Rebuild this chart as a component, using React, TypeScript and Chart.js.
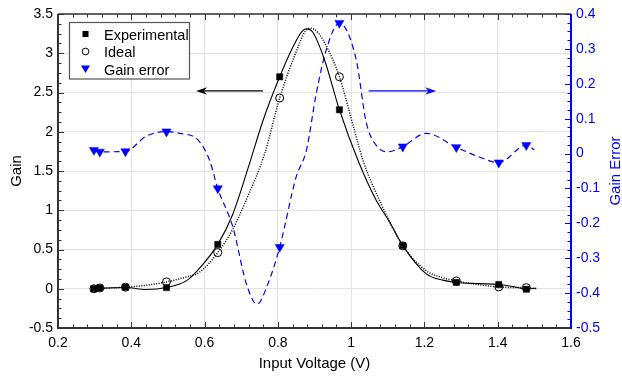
import React, { useEffect, useRef } from "react";
import { Chart, registerables } from "chart.js";

Chart.register(...registerables);

// ---- data ----
const markerVoltage = [0.298, 0.314, 0.384, 0.496, 0.636, 0.805, 0.968, 1.141, 1.287, 1.403, 1.478];
const experimentalGain = [0, 0.01, 0.02, 0.015, 0.565, 2.7, 2.28, 0.55, 0.08, 0.054, -0.006];
const idealGain = [0, 0.01, 0.02, 0.087, 0.46, 2.43, 2.7, 0.547, 0.1, 0.023, 0.015];
const gainError = [0.01, 0.005, 0.006, 0.063, -0.1, -0.268, 0.374, 0.02, 0.018, -0.026, 0.024];

const expCurveVoltage = [0.298, 0.314, 0.384, 0.44, 0.496, 0.55, 0.586, 0.636, 0.677, 0.723, 0.76, 0.805, 0.841, 0.866, 0.878, 0.895, 0.927, 0.968, 1.02, 1.068, 1.105, 1.141, 1.205, 1.25, 1.287, 1.35, 1.403, 1.45, 1.478, 1.505];
const expCurveGain = [0, 0.005, 0.015, -0.01, 0.015, 0.1, 0.26, 0.565, 0.95, 1.6, 2.15, 2.7, 3.08, 3.28, 3.31, 3.27, 2.92, 2.28, 1.62, 1.13, 0.85, 0.55, 0.19, 0.11, 0.08, 0.065, 0.054, 0.02, -0.006, 0.01];

const idealCurveVoltage = [0.298, 0.314, 0.384, 0.45, 0.496, 0.55, 0.586, 0.636, 0.677, 0.72, 0.764, 0.805, 0.85, 0.875, 0.89, 0.91, 0.94, 0.968, 1.006, 1.032, 1.08, 1.141, 1.205, 1.25, 1.287, 1.35, 1.403, 1.45, 1.478, 1.505];
const idealCurveGain = [0, 0.005, 0.02, 0.05, 0.087, 0.15, 0.21, 0.46, 0.76, 1.2, 1.72, 2.43, 3.02, 3.28, 3.32, 3.26, 3.02, 2.7, 2.07, 1.64, 1.1, 0.547, 0.23, 0.14, 0.1, 0.05, 0.023, 0.015, 0.015, 0];

const errorCurveVoltage = [0.298, 0.314, 0.384, 0.441, 0.496, 0.532, 0.582, 0.614, 0.636, 0.677, 0.714, 0.743, 0.773, 0.805, 0.85, 0.878, 0.905, 0.932, 0.968, 1.014, 1.041, 1.068, 1.1, 1.141, 1.205, 1.287, 1.35, 1.403, 1.478, 1.5];
const errorCurveValue = [0.01, 0.005, 0.006, 0.05, 0.063, 0.058, 0.039, -0.02, -0.1, -0.21, -0.373, -0.432, -0.373, -0.268, -0.067, 0.01, 0.173, 0.297, 0.374, 0.268, 0.09, 0.024, 0.005, 0.02, 0.058, 0.018, -0.01, -0.026, 0.024, 0.01];

const voltageTicks = [0.2, 0.4, 0.6, 0.8, 1, 1.2, 1.4, 1.6];
const gainTicks = [-0.5, 0, 0.5, 1, 1.5, 2, 2.5, 3, 3.5];
const errorTicks = [-0.5, -0.4, -0.3, -0.2, -0.1, 0, 0.1, 0.2, 0.3, 0.4];

const legendLabels = ["Experimental", "Ideal", "Gain error"];
const xTitle = "Input Voltage (V)";
const yTitle = "Gain";
const y1Title = "Gain Error";

// arrows (in data units)
const leftArrow = { from: 0.759, to: 0.577, gain: 2.52 };
const rightArrow = { from: 1.048, to: 1.232, gain: 2.52 };

const BLUE = "#0000ff";
const FONT = "'Liberation Sans', Arial, Helvetica, sans-serif";

const pts = (xs: number[], ys: number[]) => xs.map((x, i) => ({ x, y: ys[i] }));

function drawArrowHead(ctx: CanvasRenderingContext2D, x: number, y: number, dir: number, color: string) {
  ctx.fillStyle = color;
  ctx.beginPath();
  ctx.moveTo(x, y);
  ctx.lineTo(x - dir * 11, y - 3.8);
  ctx.lineTo(x - dir * 7.5, y);
  ctx.lineTo(x - dir * 11, y + 3.8);
  ctx.closePath();
  ctx.fill();
}

const decorPlugin = {
  id: "decor",
  afterDraw(chart: any) {
    const ctx: CanvasRenderingContext2D = chart.ctx;
    const { left, right, top, bottom } = chart.chartArea;
    const xs = chart.scales.x;
    const ys = chart.scales.y;
    const es = chart.scales.y1;
    ctx.save();

    // ticks (inward)
    ctx.lineWidth = 1;
    ctx.strokeStyle = "#333";
    for (let i = 0; i <= 35; i++) {
      const px = Math.round(xs.getPixelForValue(0.2 + i * 0.04)) + 0.5;
      const len = i % 5 === 0 ? 6 : 3.5;
      ctx.beginPath();
      ctx.moveTo(px, bottom);
      ctx.lineTo(px, bottom - len);
      ctx.moveTo(px, top);
      ctx.lineTo(px, top + len);
      ctx.stroke();
    }
    for (let i = 0; i <= 32; i++) {
      const py = Math.round(ys.getPixelForValue(-0.5 + i * 0.125)) + 0.5;
      const len = i % 4 === 0 ? 6 : 3.5;
      ctx.beginPath();
      ctx.moveTo(left, py);
      ctx.lineTo(left + len, py);
      ctx.stroke();
    }
    ctx.strokeStyle = BLUE;
    for (let i = 0; i <= 36; i++) {
      const py = Math.round(es.getPixelForValue(-0.5 + i * 0.025)) + 0.5;
      const len = i % 4 === 0 ? 6 : 3.5;
      ctx.beginPath();
      ctx.moveTo(right, py);
      ctx.lineTo(right - len, py);
      ctx.stroke();
    }

    // frame
    ctx.lineWidth = 1.5;
    ctx.strokeStyle = "#333";
    ctx.beginPath();
    ctx.moveTo(left, top);
    ctx.lineTo(right, top);
    ctx.stroke();
    ctx.lineWidth = 2;
    ctx.beginPath();
    ctx.moveTo(left, top);
    ctx.lineTo(left, bottom);
    ctx.lineTo(right, bottom);
    ctx.stroke();
    ctx.strokeStyle = BLUE;
    ctx.beginPath();
    ctx.moveTo(right, top);
    ctx.lineTo(right, bottom + 1);
    ctx.stroke();

    // arrows
    const ay = ys.getPixelForValue(leftArrow.gain);
    const ax1 = xs.getPixelForValue(leftArrow.from);
    const ax2 = xs.getPixelForValue(leftArrow.to);
    ctx.lineWidth = 1.2;
    ctx.strokeStyle = "#000";
    ctx.beginPath();
    ctx.moveTo(ax1, ay);
    ctx.lineTo(ax2 + 6, ay);
    ctx.stroke();
    drawArrowHead(ctx, ax2, ay, -1, "#000");
    const by = ys.getPixelForValue(rightArrow.gain);
    const bx1 = xs.getPixelForValue(rightArrow.from);
    const bx2 = xs.getPixelForValue(rightArrow.to);
    ctx.strokeStyle = BLUE;
    ctx.beginPath();
    ctx.moveTo(bx1, by);
    ctx.lineTo(bx2 - 6, by);
    ctx.stroke();
    drawArrowHead(ctx, bx2, by, 1, BLUE);

    // legend
    const lx = 69.5, ly = 22.5, lw = 120, lh = 56.5;
    ctx.fillStyle = "#fff";
    ctx.fillRect(lx, ly, lw, lh);
    ctx.lineWidth = 1.2;
    ctx.strokeStyle = "#555";
    ctx.strokeRect(lx, ly, lw, lh);
    ctx.font = `14.5px ${FONT}`;
    ctx.textAlign = "left";
    ctx.textBaseline = "alphabetic";
    const baselines = [39.5, 57, 74.5];
    const mx = 85.5;
    legendLabels.forEach((label, i) => {
      const b = baselines[i];
      const my = b - 5.5;
      if (i === 0) {
        ctx.fillStyle = "#000";
        ctx.fillRect(mx - 3, my - 3, 6, 6);
      } else if (i === 1) {
        ctx.strokeStyle = "#000";
        ctx.lineWidth = 1;
        ctx.beginPath();
        ctx.arc(mx, my, 3.3, 0, Math.PI * 2);
        ctx.stroke();
      } else {
        ctx.fillStyle = BLUE;
        ctx.beginPath();
        ctx.moveTo(mx - 4.5, my - 3.5);
        ctx.lineTo(mx + 4.5, my - 3.5);
        ctx.lineTo(mx, my + 4);
        ctx.closePath();
        ctx.fill();
      }
      ctx.fillStyle = "#000";
      ctx.fillText(label, 104, b);
    });

    // axis titles
    ctx.font = `15px ${FONT}`;
    ctx.fillStyle = "#000";
    ctx.textAlign = "center";
    ctx.textBaseline = "alphabetic";
    ctx.fillText(xTitle, (left + right) / 2, 368);
    ctx.save();
    ctx.translate(21, (top + bottom) / 2);
    ctx.rotate(-Math.PI / 2);
    ctx.fillText(yTitle, 0, 0);
    ctx.restore();
    ctx.save();
    ctx.fillStyle = BLUE;
    ctx.translate(620, (top + bottom) / 2);
    ctx.rotate(-Math.PI / 2);
    ctx.fillText(y1Title, 0, 0);
    ctx.restore();

    ctx.restore();
  },
};

export default function App() {
  const ref = useRef<HTMLCanvasElement | null>(null);
  useEffect(() => {
    if (!ref.current) return;
    const tickFont = { family: FONT, size: 14 };
    const chart = new Chart(ref.current, {
      type: "scatter",
      data: {
        datasets: [
          {
            label: "Experimental",
            data: pts(markerVoltage, experimentalGain),
            yAxisID: "y",
            showLine: false,
            pointStyle: "rect",
            pointRadius: 4.4,
            pointBackgroundColor: "#000",
            pointBorderColor: "#000",
            pointBorderWidth: 0.5,
          },
          {
            label: "Ideal",
            data: pts(markerVoltage, idealGain),
            yAxisID: "y",
            showLine: false,
            pointStyle: "circle",
            pointRadius: 4,
            pointBackgroundColor: "rgba(0,0,0,0)",
            pointBorderColor: "#000",
            pointBorderWidth: 1,
          },
          {
            label: "Gain error",
            data: pts(markerVoltage, gainError),
            yAxisID: "y1",
            showLine: false,
            pointStyle: "triangle",
            rotation: 180,
            pointRotation: 180,
            pointRadius: 5.3,
            pointBackgroundColor: BLUE,
            pointBorderColor: BLUE,
            pointBorderWidth: 0.5,
          },
          {
            label: "exp-fit",
            data: pts(expCurveVoltage, expCurveGain),
            yAxisID: "y",
            showLine: true,
            borderColor: "#000",
            borderWidth: 1.1,
            pointRadius: 0,
            cubicInterpolationMode: "monotone",
          },
          {
            label: "ideal-fit",
            data: pts(idealCurveVoltage, idealCurveGain),
            yAxisID: "y",
            showLine: true,
            borderColor: "#000",
            borderWidth: 1.5,
            borderDash: [1, 1.5],
            pointRadius: 0,
            cubicInterpolationMode: "monotone",
          },
          {
            label: "error-fit",
            data: pts(errorCurveVoltage, errorCurveValue),
            yAxisID: "y1",
            showLine: true,
            borderColor: BLUE,
            borderWidth: 1.2,
            borderDash: [6, 4],
            pointRadius: 0,
            cubicInterpolationMode: "monotone",
          },
        ],
      } as any,
      options: {
        animation: false,
        responsive: false,
        devicePixelRatio: 1,
        layout: { padding: { top: 14, left: 0, right: 0, bottom: 0 } },
        plugins: { legend: { display: false }, tooltip: { enabled: false } },
        scales: {
          x: {
            type: "linear",
            min: 0.2,
            max: 1.6,
            afterBuildTicks: (s: any) => {
              s.ticks = voltageTicks.map((v) => ({ value: v }));
            },
            afterFit: (s: any) => {
              s.height = 48;
            },
            ticks: {
              font: tickFont,
              color: "#000",
              padding: 7,
              maxRotation: 0,
              callback: (v: any) => String(Math.round(Number(v) * 10) / 10),
            },
            grid: { color: "#e2e2e2", lineWidth: 1, drawTicks: false },
            border: { display: false },
          },
          y: {
            type: "linear",
            position: "left",
            min: -0.5,
            max: 3.5,
            afterBuildTicks: (s: any) => {
              s.ticks = gainTicks.map((v) => ({ value: v }));
            },
            afterFit: (s: any) => {
              s.width = 58;
            },
            ticks: {
              font: tickFont,
              color: "#000",
              padding: 5,
              callback: (v: any) => String(Math.round(Number(v) * 10) / 10),
            },
            grid: { color: "#e2e2e2", lineWidth: 1, drawTicks: false },
            border: { display: false },
          },
          y1: {
            type: "linear",
            position: "right",
            min: -0.5,
            max: 0.4,
            afterBuildTicks: (s: any) => {
              s.ticks = errorTicks.map((v) => ({ value: v }));
            },
            afterFit: (s: any) => {
              s.width = 51;
            },
            ticks: {
              font: tickFont,
              color: BLUE,
              padding: 5,
              callback: (v: any) => String(Math.round(Number(v) * 10) / 10),
            },
            grid: { drawOnChartArea: false, drawTicks: false },
            border: { display: false },
          },
        },
      } as any,
      plugins: [decorPlugin],
    });
    return () => chart.destroy();
  }, []);
  return (
    <div style={{ position: "absolute", left: 0, top: 0, width: 622, height: 376 }}>
      <canvas ref={ref} width={622} height={376} style={{ width: 622, height: 376, display: "block" }} />
    </div>
  );
}
